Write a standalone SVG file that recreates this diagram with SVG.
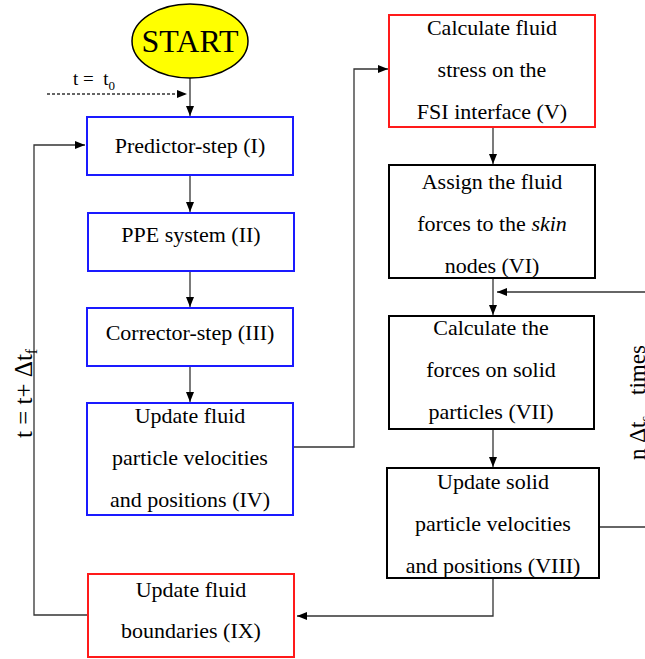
<svg xmlns="http://www.w3.org/2000/svg" width="645" height="659" viewBox="0 0 645 659" font-family="'Liberation Serif', 'DejaVu Serif', 'Times New Roman', serif">
<defs>
<marker id="ah" viewBox="0 0 10 8" refX="10" refY="4" markerWidth="10" markerHeight="8" markerUnits="userSpaceOnUse" orient="auto">
<path d="M0,0 L10,4 L0,8 Z" fill="#000"/>
</marker>
</defs>
<style>
text{font-family:'Liberation Serif','DejaVu Serif','Times New Roman',serif;fill:#000}
.t{font-size:22px;text-anchor:middle}
.blue{fill:#fff;stroke:#1a1aff;stroke-width:2}
.red{fill:#fff;stroke:#ff1a1a;stroke-width:2}
.blk{fill:#fff;stroke:#000;stroke-width:2}
.c{fill:none;stroke:#333;stroke-width:1.3}
.ca{fill:none;stroke:#333;stroke-width:1.3;marker-end:url(#ah)}
</style>
<rect width="645" height="659" fill="#fff"/>
<g id="connectors">
<line class="ca" x1="190" y1="78" x2="190" y2="116"/>
<line class="ca" x1="47" y1="94" x2="187" y2="94" stroke-dasharray="3,2"/>
<line class="ca" x1="190" y1="175" x2="190" y2="212"/>
<line class="ca" x1="190" y1="271" x2="190" y2="307"/>
<line class="ca" x1="190" y1="366" x2="190" y2="402"/>
<polyline class="ca" points="293,447 354,447 354,69 388,69"/>
<line class="ca" x1="493" y1="127" x2="493" y2="164"/>
<line class="ca" x1="493" y1="278" x2="493" y2="315"/>
<line class="ca" x1="645" y1="292" x2="497" y2="292"/>
<line class="ca" x1="493" y1="429" x2="493" y2="467"/>
<line class="c" x1="599" y1="527" x2="645" y2="527"/>
<polyline class="ca" points="493,578 493,616 297,616"/>
<polyline class="ca" points="88,615 34,615 34,145 85,145"/>
</g>
<g id="start">
<ellipse cx="190" cy="41" rx="58" ry="37" fill="#ffff00" stroke="#000" stroke-width="1.5"/>
<text x="190" y="52" font-size="32" text-anchor="middle">START</text>
</g>
<g id="label-t0">
<text x="73" y="85" font-size="19" xml:space="preserve">t =  t<tspan dy="5" font-size="13">0</tspan></text>
</g>
<g id="n1">
<rect class="blue" x="87" y="117" width="206" height="58"/>
<text class="t" x="190" y="153">Predictor-step (I)</text>
</g>
<g id="n2">
<rect class="blue" x="88" y="213" width="206" height="58"/>
<text class="t" x="191" y="242">PPE system (II)</text>
</g>
<g id="n3">
<rect class="blue" x="87" y="308" width="206" height="58"/>
<text class="t" x="190" y="340">Corrector-step (III)</text>
</g>
<g id="n4">
<rect class="blue" x="87" y="403" width="206" height="112"/>
<text class="t" x="190" y="423">Update fluid</text>
<text class="t" x="190" y="465">particle velocities</text>
<text class="t" x="190" y="507">and positions (IV)</text>
</g>
<g id="n5">
<rect class="red" x="389" y="15" width="206" height="112"/>
<text class="t" x="492" y="35">Calculate fluid</text>
<text class="t" x="492" y="77">stress on the</text>
<text class="t" x="492" y="119">FSI interface (V)</text>
</g>
<g id="n6">
<rect class="blk" x="389" y="165" width="206" height="113"/>
<text class="t" x="492" y="189">Assign the fluid</text>
<text class="t" x="492" y="231">forces to the <tspan font-style="italic">skin</tspan></text>
<text class="t" x="492" y="273">nodes (VI)</text>
</g>
<g id="n7">
<rect class="blk" x="389" y="316" width="205" height="113"/>
<text class="t" x="491" y="335">Calculate the</text>
<text class="t" x="491" y="377">forces on solid</text>
<text class="t" x="491" y="419">particles (VII)</text>
</g>
<g id="n8">
<rect class="blk" x="387" y="468" width="212" height="110"/>
<text class="t" x="493" y="489">Update solid</text>
<text class="t" x="493" y="531">particle velocities</text>
<text class="t" x="493" y="573">and positions (VIII)</text>
</g>
<g id="n9">
<rect class="red" x="88" y="574" width="206" height="83"/>
<text class="t" x="191" y="597">Update fluid</text>
<text class="t" x="191" y="638">boundaries (IX)</text>
</g>
<g id="label-left">
<text transform="translate(32,438) rotate(-90)" font-size="25" xml:space="preserve">t = t+ Δt<tspan dy="5" font-size="16">f</tspan></text>
</g>
<g id="label-right">
<text transform="translate(645,460) rotate(-90)" font-size="23">n Δt<tspan dy="5" font-size="15">s</tspan><tspan x="65" dy="-5">times</tspan></text>
</g>
</svg>
